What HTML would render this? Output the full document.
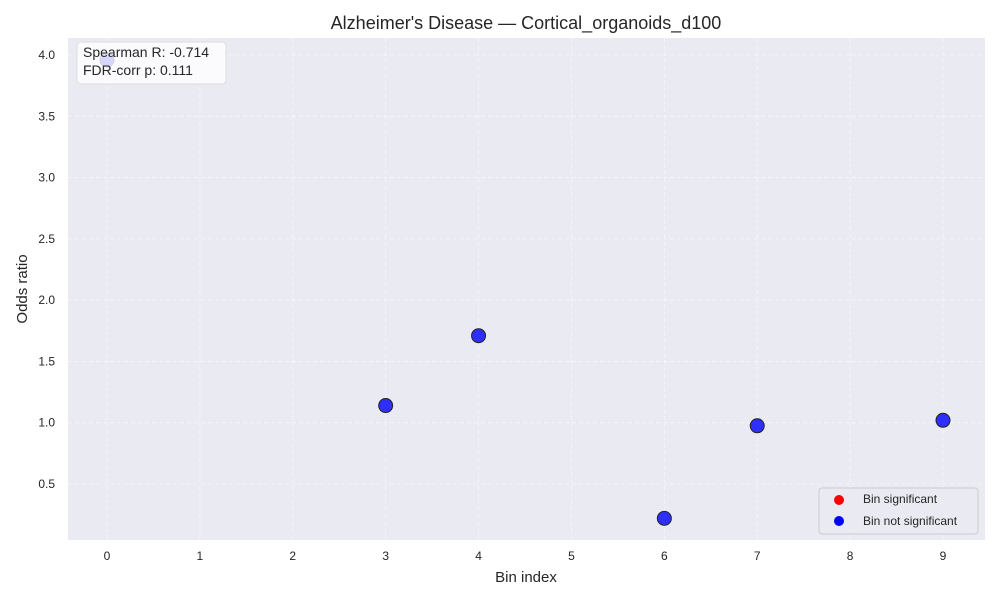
<!DOCTYPE html>
<html><head><meta charset="utf-8"><style>
body{margin:0;background:#fff;font-family:"Liberation Sans",Arial,sans-serif}
svg text{font-family:"Liberation Sans",Arial,sans-serif}
</style></head><body>
<svg id="chart" width="1000" height="600" xmlns="http://www.w3.org/2000/svg">
<rect x="0" y="0" width="1000" height="600" fill="#fff"/>
<rect x="68" y="38" width="917" height="502" fill="#eaeaf2"/>
<g id="grid"></g><g id="ticks"></g><g id="points"></g>
<text x="526" y="29" text-anchor="middle" font-size="18" fill="#262626">Alzheimer's Disease — Cortical_organoids_d100</text>
<text x="526" y="582" text-anchor="middle" font-size="15" fill="#262626">Bin index</text>
<text transform="translate(27,289) rotate(-90)" text-anchor="middle" font-size="15" fill="#262626">Odds ratio</text>
<g>
<rect x="77" y="42" width="149" height="42" rx="4" fill="#fff" fill-opacity="0.8" stroke="#ddd"/>
<text x="83" y="57" font-size="14" fill="#262626">Spearman R: -0.714</text>
<text x="83" y="75" font-size="14" fill="#262626">FDR-corr p: 0.111</text>
</g>
<g>
<rect x="819" y="488" width="159" height="46" rx="3" fill="#eaeaf2" fill-opacity="0.9" stroke="#ccc"/>
<circle cx="839" cy="500" r="5" fill="red"/>
<text x="863" y="503" font-size="12" fill="#262626">Bin significant</text>
<circle cx="839" cy="521" r="5" fill="blue"/>
<text x="863" y="525" font-size="12" fill="#262626">Bin not significant</text>
</g>
</svg>
<script>
const bins=[0,3,4,6,7,9];
const oddsRatios=[3.96,1.14,1.71,0.22,0.975,1.02];
const xTicks=[0,1,2,3,4,5,6,7,8,9];
const yTicks=[0.5,1.0,1.5,2.0,2.5,3.0,3.5,4.0];
const NS="http://www.w3.org/2000/svg";
const xs=v=>107+v*92.89;
const ys=v=>484-(v-0.5)*122.57;
function mk(tag,attrs,parent){const e=document.createElementNS(NS,tag);for(const k in attrs)e.setAttribute(k,attrs[k]);document.getElementById(parent).appendChild(e);return e;}
xTicks.forEach(t=>{
 const g=mk('line',{x1:xs(t),x2:xs(t),y1:38,y2:540,stroke:'#fff','stroke-opacity':0.6,'stroke-dasharray':'4,3','stroke-width':0.8},'grid');
 
 
 const l=mk('text',{x:xs(t),y:560,'text-anchor':'middle','font-size':12,fill:'#262626'},'ticks');l.textContent=t;
 
 
});
yTicks.forEach(t=>{
 const g=mk('line',{x1:68,x2:985,y1:ys(t),y2:ys(t),stroke:'#fff','stroke-opacity':0.6,'stroke-dasharray':'4,3','stroke-width':0.8},'grid');
 
 
 const l=mk('text',{x:55,y:ys(t)+4,'text-anchor':'end','font-size':12,fill:'#262626'},'ticks');l.textContent=t.toFixed(1);
 
 
});
bins.forEach((b,i)=>{
 const c=mk('circle',{cx:xs(b),cy:ys(oddsRatios[i]),r:7,fill:'blue','fill-opacity':0.8,stroke:'#222','stroke-width':1},'points');
 
 
});
</script>
</body></html>
